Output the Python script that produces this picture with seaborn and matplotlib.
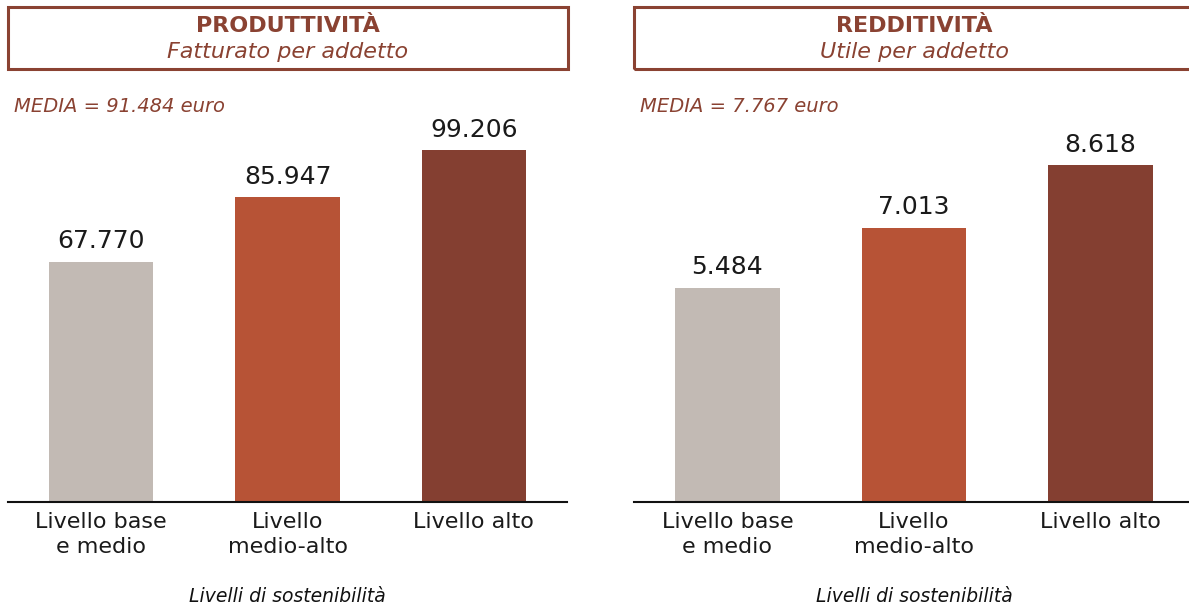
import matplotlib
matplotlib.use("Agg")
import matplotlib.pyplot as plt
from matplotlib.patches import Rectangle
import seaborn as sns

# Data
categories = ["Livello base\ne medio", "Livello\nmedio-alto", "Livello alto"]
fatturato = [67770, 85947, 99206]
utile = [5484, 7013, 8618]
media_fatturato = "MEDIA = 91.484 euro"
media_utile = "MEDIA = 7.767 euro"
titles = ["PRODUTTIVITÀ", "REDDITIVITÀ"]
subtitles = ["Fatturato per addetto", "Utile per addetto"]
xlabel = "Livelli di sostenibilità"

palette = ["#C2BAB4", "#B75336", "#843F31"]
brown = "#8A4232"

sns.set_theme(style="white")
plt.rcParams["font.family"] = ["DejaVu Sans"]

W, H = 1189, 610
fig = plt.figure(figsize=(W / 100, H / 100), dpi=100)


def fx(px):
    return px / W


def fy(py):
    return 1 - py / H


def panel(x0, x1, values, ymax, title, subtitle, media):
    ax = fig.add_axes([fx(x0), fy(502), fx(x1 - x0), fy(130) - fy(502)])
    sns.barplot(x=categories, y=values, hue=categories, palette=palette,
                width=0.56, saturation=1, legend=False, linewidth=0, ax=ax)
    ax.set_xlim(-0.5, 2.5)
    ax.set_ylim(0, ymax)
    for c in ax.containers:
        labels = [f"{int(round(v)):,}".replace(",", ".") for v in c.datavalues]
        ax.bar_label(c, labels=labels, padding=6, fontsize=18, color="#1a1a1a")
    ax.set_yticks([])
    ax.set_ylabel("")
    ax.set_xlabel("")
    for s in ["top", "right", "left"]:
        ax.spines[s].set_visible(False)
    ax.spines["bottom"].set_color("#111111")
    ax.spines["bottom"].set_linewidth(1.5)
    ax.tick_params(axis="x", length=0, labelsize=16, colors="#1a1a1a", pad=7)
    for t in ax.get_xticklabels():
        t.set_linespacing(1.35)
        t.set_verticalalignment("top")

    # title box
    fig.patches.append(Rectangle((fx(x0), fy(69)), fx(x1 - x0 + 1), fy(7) - fy(69),
                                 transform=fig.transFigure, fill=False,
                                 edgecolor=brown, linewidth=2.2))
    cx = (x0 + x1) / 2
    fig.text(fx(cx), fy(26), title, ha="center", va="center",
             fontsize=16, fontweight="bold", color=brown)
    fig.text(fx(cx), fy(52), subtitle, ha="center", va="center",
             fontsize=16, style="italic", color=brown)
    fig.text(fx(x0 + 6), fy(106), media, ha="left", va="center",
             fontsize=14, style="italic", color=brown)
    fig.text(fx(cx), fy(597), xlabel, ha="center", va="center",
             fontsize=13.5, style="italic", color="#111111")
    return ax


panel(8, 567, fatturato, 104850, titles[0], subtitles[0], media_fatturato)
panel(634, 1194, utile, 9514, titles[1], subtitles[1], media_utile)

fig.savefig("out.png", dpi=100, facecolor="white")
